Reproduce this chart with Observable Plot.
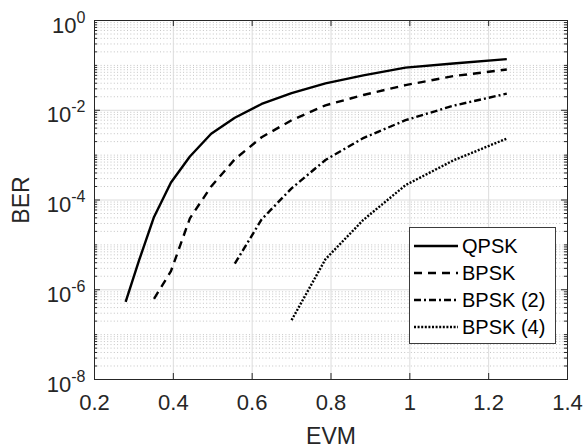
<!DOCTYPE html>
<html>
<head>
<meta charset="utf-8">
<script src="https://cdn.jsdelivr.net/npm/d3@7"></script>
<script src="https://cdn.jsdelivr.net/npm/@observablehq/plot@0.6"></script>
<style>
  html, body { margin: 0; padding: 0; background: #fff; }
  #wrap { position: relative; width: 585px; height: 448px; font-family: Arial, "Liberation Sans", Helvetica, sans-serif; color: #262626; }
  #legend { position: absolute; left: 409px; top: 227px; width: 145px; height: 115px; border: 1px solid #3c3c3c; background: #fff; box-sizing: content-box; }
  .row { position: absolute; left: 4px; height: 24px; display: flex; align-items: center; font-size: 20px; color: #000; white-space: nowrap; }
  .row svg { margin-right: 4px; }
</style>
</head>
<body>
<div id="wrap"></div>
<script>
// ---- data ----
const evm = [0.279, 0.313, 0.351, 0.394, 0.442, 0.496, 0.556, 0.624, 0.700, 0.786, 0.882, 0.989, 1.110, 1.246];
const qpsk = [5.4e-7, 4.5e-6, 4.2e-5, 2.45e-4, 9.3e-4, 3.0e-3, 6.8e-3, 1.38e-2, 2.4e-2, 3.98e-2, 6.0e-2, 8.9e-2, 1.1e-1, 1.38e-1];
const bpsk = [6.3e-7, 2.6e-6, 3.9e-5, 2.0e-4, 8.1e-4, 2.5e-3, 6.0e-3, 1.29e-2, 2.19e-2, 3.63e-2, 5.75e-2, 8.1e-2];
const bpsk2 = [3.8e-6, 3.7e-5, 1.82e-4, 7.8e-4, 2.4e-3, 6.0e-3, 1.26e-2, 2.34e-2];
const bpsk4 = [2.1e-7, 4.8e-6, 3.6e-5, 2.14e-4, 7.6e-4, 2.34e-3];
const seriesNames = ["QPSK", "BPSK", "BPSK (2)", "BPSK (4)"];
const seriesValues = [qpsk, bpsk, bpsk2, bpsk4];
const seriesDash = [null, "8,6", "7,3,2,3", "2,1.6"];
const xTicks = [0.2, 0.4, 0.6, 0.8, 1, 1.2, 1.4];
const xTickLabels = ["0.2", "0.4", "0.6", "0.8", "1", "1.2", "1.4"];
const yTicks = [1, 1e-2, 1e-4, 1e-6, 1e-8];
const yTickExponents = ["0", "-2", "-4", "-6", "-8"];
const xLabel = "EVM";
const yLabel = "BER";

// ---- layout ----
const W = 585, H = 448, mL = 94, mR = 18, mT = 20, mB = 69;
const fw = W - mL - mR, fh = H - mT - mB;
const ink = "#262626";

// rows (each series ends at the last EVM point)
const rows = [];
seriesValues.forEach((vals, i) => {
  const off = evm.length - vals.length;
  vals.forEach((v, j) => rows.push({series: seriesNames[i], x: evm[off + j], y: v}));
});

// minor log ticks: m·10^k, excluding the labelled decades
const minorY = [];
for (let k = -8; k < 0; k++) for (let m = 1; m < 10; m++) {
  if (m === 1 && k % 2 === 0) continue;
  minorY.push(m * Math.pow(10, k));
}

const lineMarks = seriesNames.map((name, i) =>
  Plot.line(rows.filter(r => r.series === name), {
    x: "x", y: "y", stroke: "#000", strokeWidth: 2.4,
    strokeDasharray: seriesDash[i] || undefined, strokeLinejoin: "round", strokeLinecap: "butt"
  })
);

const svg = Plot.plot({
  width: W, height: H,
  marginLeft: mL, marginRight: mR, marginTop: mT, marginBottom: mB,
  style: {fontFamily: "Arial, 'Liberation Sans', Helvetica, sans-serif", color: ink, background: "#fff"},
  x: {type: "linear", domain: [0.2, 1.4]},
  y: {type: "log", domain: [1e-8, 1]},
  marks: [
    Plot.ruleY(minorY, {stroke: "#c4c4c4", strokeWidth: 1, strokeDasharray: "1,2.3"}),
    Plot.ruleX(xTicks, {stroke: "#dcdcdc", strokeWidth: 1}),
    Plot.ruleY(yTicks, {stroke: "#dcdcdc", strokeWidth: 1}),
    ...lineMarks,
    Plot.frame({stroke: ink, strokeWidth: 1}),
    // inward ticks on all four sides
    Plot.ruleX(xTicks, {insetTop: fh - 6, stroke: ink}),
    Plot.ruleX(xTicks, {insetBottom: fh - 6, stroke: ink}),
    Plot.ruleY(yTicks, {insetRight: fw - 6, stroke: ink}),
    Plot.ruleY(yTicks, {insetLeft: fw - 6, stroke: ink}),
    Plot.ruleY(minorY, {insetRight: fw - 3, stroke: ink}),
    Plot.ruleY(minorY, {insetLeft: fw - 3, stroke: ink}),
    Plot.axisX(xTicks, {
      tickSize: 0, tickPadding: 15, fontSize: 22,
      tickFormat: d => xTickLabels[xTicks.indexOf(d)],
      label: xLabel, labelAnchor: "center", labelArrow: "none", labelOffset: 64
    }),
    Plot.axisY(yTicks, {
      tickSize: 0, tickPadding: 9, fontSize: 22,
      tickFormat: d => "10^" + yTickExponents[yTicks.indexOf(d)],
      label: yLabel, labelAnchor: "center", labelArrow: "none", labelOffset: 82
    })
  ]
});

// turn "10^k" labels into 10 with a raised exponent
d3.select(svg).selectAll('g[aria-label="y-axis tick label"] text').each(function() {
  const t = d3.select(this);
  const [base, exp] = t.text().split("^");
  t.text(null);
  t.append("tspan").attr("dy", "5").text(base);
  t.append("tspan").attr("dy", "-10").attr("font-size", 16).text(exp);
});
d3.select(svg).selectAll('g[aria-label="x-axis label"] text, g[aria-label="y-axis label"] text').attr("font-size", 23);

const wrap = document.getElementById("wrap");
wrap.appendChild(svg);

// legend
const legend = document.createElement("div");
legend.id = "legend";
seriesNames.forEach((name, i) => {
  const row = document.createElement("div");
  row.className = "row";
  row.style.top = (6 + i * 27) + "px";
  const s = d3.create("svg").attr("width", 44).attr("height", 10);
  s.append("line").attr("x1", 0).attr("x2", 44).attr("y1", 5).attr("y2", 5)
    .attr("stroke", "#000").attr("stroke-width", 2.4)
    .attr("stroke-dasharray", seriesDash[i]);
  row.appendChild(s.node());
  const lab = document.createElement("span");
  lab.textContent = name;
  row.appendChild(lab);
  legend.appendChild(row);
});
wrap.appendChild(legend);
</script>
</body>
</html>
